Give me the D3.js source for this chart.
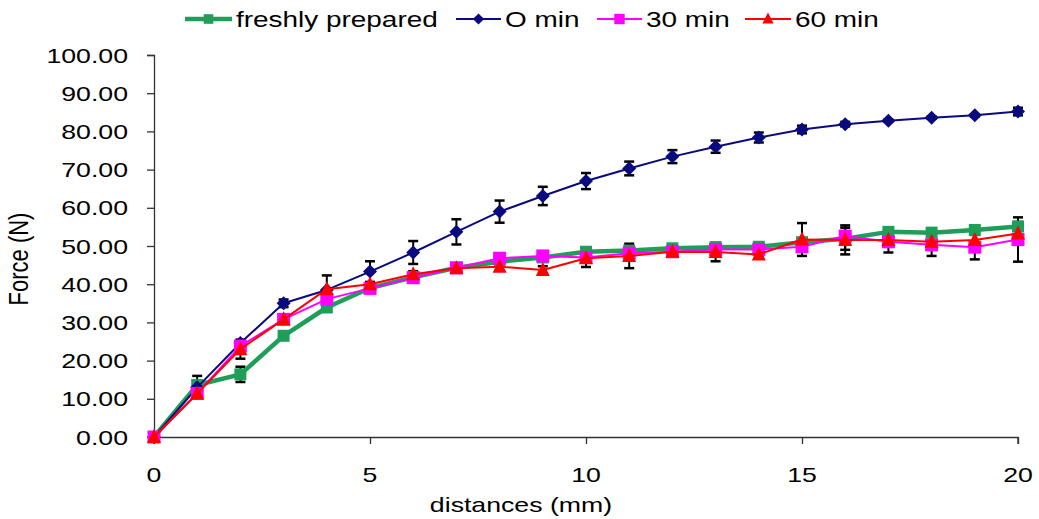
<!DOCTYPE html>
<html><head><meta charset="utf-8">
<script src="https://cdn.jsdelivr.net/npm/d3@7"></script>
<style>body{margin:0;background:#fff}svg{display:block}text{font-family:"Liberation Sans",Arial,sans-serif;fill:#000}</style>
</head><body>
<svg id="chart" width="1039" height="519"></svg>
<script>
const distances = [0,1,2,3,4,5,6,7,8,9,10,11,12,13,14,15,16,17,18,19,20];
const freshlyPrepared = [0,13.6,16.4,26.5,33.9,39.0,41.8,44.3,45.9,47.0,48.5,48.8,49.4,49.7,49.8,51.0,51.9,53.7,53.5,54.2,55.1];
const freshlyErr      = [0,2.4,2.0,0.8,0,0,0,0,0,0,0,0,0,0,0,0,2.9,0.7,0,0,0];
const min0  = [0,13.0,24.6,35.0,38.5,43.3,48.3,53.7,59.0,63.1,67.0,70.3,73.4,76.0,78.4,80.5,81.9,82.8,83.6,84.2,85.2];
const min0Err = [0,0,0.5,1.0,3.8,2.7,3.0,3.3,2.9,2.4,2.1,1.8,1.7,1.6,1.3,1.0,0.6,0.3,0.3,0.3,1.0];
const min30 = [0,11.4,23.8,30.8,36.1,38.9,41.7,44.3,46.8,47.4,47.0,48.1,48.5,49.1,49.1,49.8,52.6,51.1,50.3,49.7,51.7];
const min30Err = [0,0,0,0,0,0,0,0,0,0,0,0,0,0,0,0,0,0,2.9,3.2,5.8];
const min60 = [0,11.4,23.0,30.8,38.7,40.0,42.6,44.2,44.6,43.7,46.8,47.4,48.5,48.4,47.8,51.7,51.6,51.6,51.1,51.6,53.3];
const min60Err = [0,0,2.5,0,0,0,0.8,0,0,1.0,2.3,3.2,0.5,2.4,0.6,4.3,3.8,3.3,0,0,3.0];
const yTicks = [0,10,20,30,40,50,60,70,80,90,100];
const xTicks = [0,5,10,15,20];
const seriesNames = ["freshly prepared","O min","30 min","60 min"];

const SX = 1.27;
const svg = d3.select("#chart");
const x = d3.scaleLinear().domain([0,20]).range([154,1018]);
const y = d3.scaleLinear().domain([0,100]).range([437,55]);

function stext(g, tx, ty, str, anchor, size){
  return g.append("text").attr("transform",`translate(${tx},${ty}) scale(${SX},1)`)
    .attr("text-anchor",anchor).style("font-size",size+"px").text(str);
}

// axes
const yAxis = svg.append("g").attr("transform","translate(154,0)")
  .call(d3.axisLeft(y).tickValues(yTicks).tickSize(7).tickFormat(""));
const xAxis = svg.append("g").attr("transform","translate(0,437)")
  .call(d3.axisBottom(x).tickValues(xTicks).tickSize(7).tickFormat(""));
svg.selectAll(".domain").attr("stroke","#333").attr("stroke-width",1.3);
svg.selectAll(".tick line").attr("stroke","#333").attr("stroke-width",1.3);
yAxis.select(".domain").attr("d","M-7,55.5H0.5V437.5");
xAxis.select(".domain").attr("d","M154,0.5H1018V7");

yTicks.forEach(t => stext(svg,128,y(t)+7.5,d3.format(".2f")(t),"end",21));
xTicks.forEach(t => stext(svg,x(t),482,String(t),"middle",21));
stext(svg,521,512,"distances (mm)","middle",21);
svg.append("text").attr("transform","translate(28,259) rotate(-90) scale(1,1.27)")
  .attr("text-anchor","middle").style("font-size","22px").text("Force (N)");

const series = [
  {name:seriesNames[0], vals:freshlyPrepared, err:freshlyErr, color:"#1f9e5a", w:4.5, shape:"square", size:12},
  {name:seriesNames[1], vals:min0, err:min0Err, color:"#0a0a80", w:2, shape:"diamond", size:14},
  {name:seriesNames[2], vals:min30, err:min30Err, color:"#ff00ff", w:2, shape:"square", size:13},
  {name:seriesNames[3], vals:min60, err:min60Err, color:"#ff0000", w:2, shape:"triangle", size:14}
];

function marker(g, shape, cx, cy, s, color){
  if(shape==="square"){
    g.append("rect").attr("x",cx-s/2).attr("y",cy-s/2).attr("width",s).attr("height",s).attr("fill",color);
  } else if(shape==="diamond"){
    const h=s/2;
    g.append("path").attr("d",`M${cx},${cy-h}L${cx+h},${cy}L${cx},${cy+h}L${cx-h},${cy}Z`).attr("fill",color);
  } else {
    const h=s/2;
    g.append("path").attr("d",`M${cx},${cy-h-1}L${cx+h},${cy+h-1}L${cx-h},${cy+h-1}Z`).attr("fill",color);
  }
}

const line = d3.line();
// error bars
const eg = svg.append("g");
series.forEach(s=>{
  distances.forEach((d,i)=>{
    const e=s.err[i]; if(!e) return;
    const cx=x(d), y1=y(s.vals[i]+e), y2=y(s.vals[i]-e);
    eg.append("line").attr("x1",cx).attr("x2",cx).attr("y1",y1).attr("y2",y2).attr("stroke","#000").attr("stroke-width",2);
    [y1,y2].forEach(yy=>eg.append("line").attr("x1",cx-5).attr("x2",cx+5).attr("y1",yy).attr("y2",yy).attr("stroke","#000").attr("stroke-width",2.5));
  });
});
series.forEach(s=>{
  const g=svg.append("g");
  g.append("path").attr("d",line(distances.map((d,i)=>[x(d),y(s.vals[i])])))
    .attr("fill","none").attr("stroke",s.color).attr("stroke-width",s.w).attr("stroke-linejoin","round");
  distances.forEach((d,i)=>marker(g,s.shape,x(d),y(s.vals[i]),s.size,s.color));
});

// legend
const legPos = [{lx:185,tx:236},{lx:456,tx:505},{lx:597,tx:646},{lx:745,tx:795}];
series.forEach((s,i)=>{
  const p=legPos[i], g=svg.append("g");
  const x2 = p.tx-4, cx=(p.lx+x2)/2;
  g.append("line").attr("x1",p.lx).attr("x2",x2).attr("y1",19).attr("y2",19).attr("stroke",s.color).attr("stroke-width",s.w);
  marker(g,s.shape,cx,19,s.size*0.8,s.color);
  stext(g,p.tx,27,s.name,"start",22);
});
</script>
</body></html>
